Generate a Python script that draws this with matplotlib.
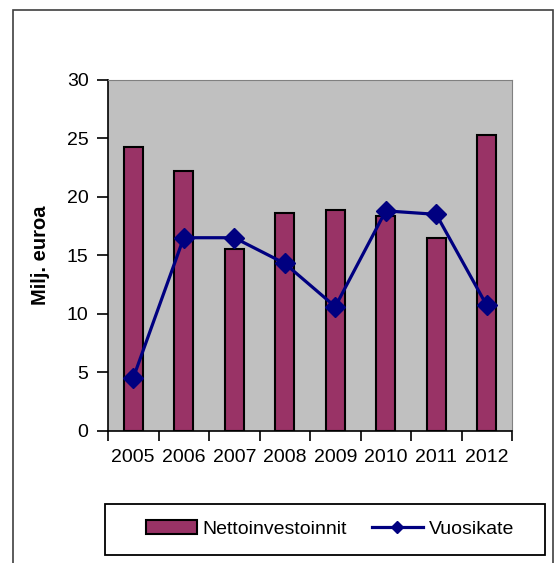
import numpy as np
import matplotlib.pyplot as plt
from matplotlib.patches import Rectangle

plt.rcParams['font.family'] = ['Liberation Sans', 'DejaVu Sans']

# data
years = ['2005', '2006', '2007', '2008', '2009', '2010', '2011', '2012']
netto = [24.3, 22.2, 15.5, 18.6, 18.9, 18.4, 16.5, 25.3]
vuosikate = [4.5, 16.5, 16.5, 14.3, 10.6, 18.8, 18.5, 10.7]

W, H = 556, 563
fig = plt.figure(figsize=(W/100, H/100), dpi=100)
ax = fig.add_axes([108/W, 1-430.5/H, (512-108)/W, (430.5-80)/H])
ax.set_facecolor('#c0c0c0')

x = np.arange(len(years))
bars = ax.bar(x, netto, width=0.38, color='#993366', edgecolor='black', linewidth=1.5,
              label='Nettoinvestoinnit', zorder=2)
line, = ax.plot(x, vuosikate, color='#000080', lw=2.3, marker='D', markersize=10,
                label='Vuosikate', zorder=3)

ax.set_xlim(-0.5, len(years) - 0.5)
ax.set_ylim(0, 30)
ax.set_yticks(range(0, 31, 5))
ax.set_xticks(x)
ax.set_xticklabels(years)
ax.set_xticks(np.arange(-0.5, len(years)), minor=True)
ax.tick_params(axis='x', which='major', length=0, labelsize=14, pad=13)
ax.tick_params(axis='x', which='minor', length=7, width=1.2, direction='out')
ax.tick_params(axis='y', length=8, width=1.2, labelsize=14, pad=6)
ax.set_ylabel('Milj. euroa', fontsize=14.5, fontweight='bold', labelpad=12)

for s in ['left', 'bottom']:
    ax.spines[s].set_linewidth(1.2)
for s in ['top', 'right']:
    ax.spines[s].set_color('#808080')

leg = fig.legend([bars, line], ['Nettoinvestoinnit', 'Vuosikate'],
                 loc='center', ncol=2, frameon=False,
                 bbox_to_anchor=(330/W, 1-529/H),
                 fontsize=14, handlelength=2.6, handleheight=0.7,
                 handletextpad=0.3, columnspacing=1.3)
leg.legend_handles[1].set_markersize(6)

# legend box
fig.patches.append(Rectangle((105/W, 1-555/H), 440/W, 51/H,
                             transform=fig.transFigure, fill=False,
                             edgecolor='black', lw=1.3))

# outer frame
fig.patches.append(Rectangle((13/W, -0.05), (553-13)/W, 1.05-10/H,
                             transform=fig.transFigure, fill=False,
                             edgecolor='#404040', lw=1.2))

fig.savefig('out.png', dpi=100)
